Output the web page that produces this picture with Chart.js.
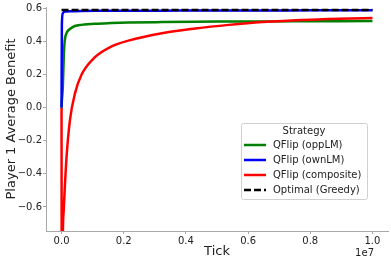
<!DOCTYPE html>
<html>
<head>
<meta charset="utf-8">
<script src="https://cdn.jsdelivr.net/npm/chart.js@4"></script>
<style>
  body { margin: 0; background: #fff; }
  #wrap { width: 391px; height: 263px; position: relative; }
</style>
</head>
<body>
<div id="wrap"><canvas id="benefit"></canvas></div>
<script>
// ticks (x values) shared by all strategies
var ticks = [0, 10000, 40000, 70000, 100000, 160000, 270000, 430000, 645000, 1075000,
  1610000, 2150000, 3230000, 4300000, 5380000, 6450000, 8000000, 10000000];

var oppLM = [0, 0.04, 0.12, 0.3, 0.4, 0.45, 0.475, 0.493, 0.5, 0.507,
  0.511, 0.514, 0.517, 0.519, 0.52, 0.521, 0.522, 0.523];
var ownLM = [0, 0.5, 0.57, 0.577, 0.58, 0.581, 0.582, 0.583, 0.584, 0.585,
  0.585, 0.586, 0.586, 0.587, 0.587, 0.587, 0.588, 0.588];
var composite = [0, -2.0, -0.8, -0.62, -0.5, -0.3, -0.075, 0.085, 0.2, 0.305,
  0.37, 0.405, 0.45, 0.478, 0.5, 0.517, 0.531, 0.541];
var greedy = [0.59, 0.59, 0.59, 0.59, 0.59, 0.59, 0.59, 0.59, 0.59, 0.59,
  0.59, 0.59, 0.59, 0.59, 0.59, 0.59, 0.59, 0.59];

var seriesNames = ['QFlip (oppLM)', 'QFlip (ownLM)', 'QFlip (composite)', 'Optimal (Greedy)'];

var xTickVals = [0, 2000000, 4000000, 6000000, 8000000, 10000000];
var yTickVals = [-0.6, -0.4, -0.2, 0.0, 0.2, 0.4, 0.6];

var FONT = "'DejaVu Sans', 'Liberation Sans', sans-serif";
var SPINE = '#a8a8a8';

function pts(vals) {
  return ticks.map(function (t, i) { return { x: t, y: vals[i] }; });
}

function line(label, vals, color, order, dash) {
  return {
    label: label,
    data: pts(vals),
    borderColor: color,
    backgroundColor: color,
    borderWidth: 2.5,
    borderDash: dash || [],
    pointRadius: 0,
    cubicInterpolationMode: 'monotone',
    fill: false,
    order: order
  };
}

// legend box in the lower right, drawn like the matplotlib one
var legendBox = {
  id: 'legendBox',
  afterDraw: function (chart) {
    var ctx = chart.ctx;
    var x0 = 241, y0 = 123, w = 126, h = 76;
    ctx.save();
    ctx.fillStyle = 'rgba(255,255,255,0.85)';
    ctx.strokeStyle = '#d0d0d0';
    ctx.lineWidth = 1;
    ctx.beginPath();
    ctx.roundRect(x0 + 0.5, y0 + 0.5, w, h, 2);
    ctx.fill();
    ctx.stroke();

    ctx.font = '10px ' + FONT;
    ctx.fillStyle = '#222';
    ctx.textBaseline = 'middle';
    ctx.textAlign = 'center';
    ctx.fillText('Strategy', 304, 131);

    ctx.textAlign = 'left';
    chart.data.datasets.forEach(function (ds, i) {
      var y = 145 + i * 15;
      ctx.strokeStyle = ds.borderColor;
      ctx.lineWidth = 2.5;
      ctx.setLineDash(ds.borderDash.length ? [7, 3] : []);
      ctx.beginPath();
      ctx.moveTo(244, y);
      ctx.lineTo(266, y);
      ctx.stroke();
      ctx.setLineDash([]);
      ctx.fillStyle = '#222';
      ctx.fillText(ds.label, 273, y);
    });

    // offset text of the x axis
    ctx.textAlign = 'right';
    ctx.fillText('1e7', 374, 253);
    ctx.restore();
  }
};

var chart = new Chart(document.getElementById('benefit'), {
  type: 'line',
  plugins: [legendBox],
  data: {
    datasets: [
      line(seriesNames[0], oppLM, '#008000', 4),
      line(seriesNames[1], ownLM, '#0000ff', 3),
      line(seriesNames[2], composite, '#ff0000', 2),
      line(seriesNames[3], greedy, '#000000', 1, [7, 3])
    ]
  },
  options: {
    responsive: true,
    maintainAspectRatio: false,
    animation: false,
    layout: {
      padding: { left: 0, right: 3, top: 7, bottom: 0 }
    },
    plugins: {
      legend: { display: false },
      tooltip: { enabled: false }
    },
    scales: {
      x: {
        type: 'linear',
        min: -500000,
        max: 10500000,
        afterBuildTicks: function (scale) {
          scale.ticks = xTickVals.map(function (v) { return { value: v }; });
        },
        afterFit: function (scale) { scale.height = 32; },
        border: { color: SPINE, width: 1 },
        grid: { drawOnChartArea: false, tickLength: 3, tickColor: SPINE },
        ticks: {
          maxRotation: 0,
          padding: 1,
          color: '#222',
          font: { family: FONT, size: 10 },
          callback: function (v) { return (v / 1e7).toFixed(1); }
        },
        title: {
          display: true,
          text: 'Tick',
          color: '#222',
          font: { family: FONT, size: 13 },
          padding: { top: 0, bottom: 4 }
        }
      },
      y: {
        min: -0.745,
        max: 0.608,
        afterBuildTicks: function (scale) {
          scale.ticks = yTickVals.map(function (v) { return { value: v }; });
        },
        afterFit: function (scale) { scale.width = 46; },
        border: { color: SPINE, width: 1 },
        grid: { drawOnChartArea: false, tickLength: 3, tickColor: SPINE },
        ticks: {
          padding: 1,
          color: '#222',
          font: { family: FONT, size: 10 },
          callback: function (v) {
            var s = Math.abs(v).toFixed(1);
            return v < -0.001 ? '\u2212' + s : s;
          }
        },
        title: {
          display: true,
          text: 'Player 1 Average Benefit',
          color: '#222',
          font: { family: FONT, size: 13 },
          padding: { top: 4, bottom: 0 }
        }
      }
    }
  }
});
</script>
</body>
</html>
